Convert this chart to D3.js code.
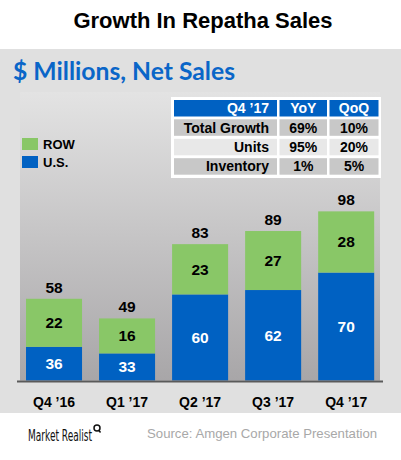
<!DOCTYPE html>
<html>
<head>
<meta charset="utf-8">
<script src="https://cdn.jsdelivr.net/npm/d3@7"></script>
<style>
  html, body { margin: 0; padding: 0; background: #fff; }
  svg { display: block; }
</style>
</head>
<body>
<svg id="chart" width="401" height="460"></svg>
<script>
// ---- Data ----
const quarters = ["Q4 \u201916", "Q1 \u201917", "Q2 \u201917", "Q3 \u201917", "Q4 \u201917"];
const usValues = [36, 33, 60, 62, 70];
const rowValues = [22, 16, 23, 27, 28];
const totalValues = [58, 49, 83, 89, 98];
const seriesNames = ["ROW", "U.S."];
const tableHeader = ["Q4 \u201917", "YoY", "QoQ"];
const tableRowLabels = ["Total Growth", "Units", "Inventory"];
const tableYoY = ["69%", "95%", "1%"];
const tableQoQ = ["10%", "20%", "5%"];

// ---- Styles ----
const GREEN = "#89c767";
const BLUE = "#0061c2";
const PANEL = "#e0e0e0";

const svg = d3.select("#chart");
const defs = svg.append("defs");
const grad = defs.append("linearGradient").attr("id", "plotGrad")
  .attr("x1", 0).attr("y1", 0).attr("x2", 0).attr("y2", 1);
grad.append("stop").attr("offset", "0%").attr("stop-color", "#e3e3e3");
grad.append("stop").attr("offset", "100%").attr("stop-color", "#a8a6a8");

// Title
svg.append("text").attr("x", 203).attr("y", 28).attr("text-anchor", "middle")
  .attr("font-family", "Liberation Sans, Arial, sans-serif").attr("font-weight", "bold")
  .attr("font-size", 22).attr("fill", "#000").text("Growth In Repatha Sales");

// Gray panel
svg.append("rect").attr("x", 0).attr("y", 49).attr("width", 401).attr("height", 364).attr("fill", PANEL);

// Subtitle
svg.append("text").attr("x", 13).attr("y", 80)
  .attr("font-family", "Lato, 'Open Sans', sans-serif").attr("font-weight", "bold")
  .attr("font-size", 24.7).attr("fill", "#0a66c8").text("$ Millions, Net Sales");

// Plot area
const plotLeft = 20, plotRight = 380, plotTop = 92, baseY = 380.5;
svg.append("rect").attr("x", plotLeft).attr("y", plotTop).attr("width", plotRight - plotLeft)
  .attr("height", baseY - plotTop).attr("fill", "url(#plotGrad)");

// Scales
const x = d3.scaleBand().domain(quarters).range([20.9, 379.3]).paddingInner(0.233).paddingOuter(0.07);
const y = d3.scaleLinear().domain([20.6, 100]).range([baseY, 207]);

const data = quarters.map((q, i) => ({ q, us: usValues[i], row: rowValues[i], total: totalValues[i] }));

const g = svg.append("g");
// U.S. bars
g.selectAll("rect.us").data(data).join("rect").attr("class", "us")
  .attr("x", d => x(d.q)).attr("width", x.bandwidth())
  .attr("y", d => y(d.us)).attr("height", d => baseY - y(d.us))
  .attr("fill", BLUE);
// ROW bars
g.selectAll("rect.row").data(data).join("rect").attr("class", "row")
  .attr("x", d => x(d.q)).attr("width", x.bandwidth())
  .attr("y", d => y(d.us + d.row)).attr("height", d => y(d.us) - y(d.us + d.row))
  .attr("fill", GREEN);

const labelFont = "Liberation Sans, Arial, sans-serif";
// U.S. labels
g.selectAll("text.us").data(data).join("text").attr("class", "us")
  .attr("x", d => x(d.q) + x.bandwidth() / 2)
  .attr("y", d => (y(d.us) + baseY) / 2 + 5.5)
  .attr("text-anchor", "middle").attr("font-family", labelFont).attr("font-weight", "bold")
  .attr("font-size", 15.5).attr("fill", "#fff").text(d => d.us);
// ROW labels
g.selectAll("text.row").data(data).join("text").attr("class", "row")
  .attr("x", d => x(d.q) + x.bandwidth() / 2)
  .attr("y", d => (y(d.us) + y(d.us + d.row)) / 2 + 5.5)
  .attr("text-anchor", "middle").attr("font-family", labelFont).attr("font-weight", "bold")
  .attr("font-size", 15.5).attr("fill", "#000").text(d => d.row);
// Totals
g.selectAll("text.total").data(data).join("text").attr("class", "total")
  .attr("x", d => x(d.q) + x.bandwidth() / 2)
  .attr("y", d => y(d.total) - 6)
  .attr("text-anchor", "middle").attr("font-family", labelFont).attr("font-weight", "bold")
  .attr("font-size", 15.5).attr("fill", "#000").text(d => d.total);

// X axis
const xAxis = svg.append("g").attr("transform", `translate(0,${baseY + 1})`)
  .call(d3.axisBottom(x).tickSize(0).tickPadding(16));
xAxis.select(".domain").remove();
xAxis.append("line").attr("x1", 17).attr("x2", 383).attr("y1", 0).attr("y2", 0)
  .attr("stroke", "#5a5a5a").attr("stroke-width", 2);
xAxis.selectAll(".tick text").attr("font-family", labelFont).attr("font-weight", "bold")
  .attr("font-size", 14).attr("fill", "#000");

// Legend
const legendColors = [GREEN, BLUE];
const legend = svg.append("g");
seriesNames.forEach((name, i) => {
  legend.append("rect").attr("x", 22).attr("y", 138 + i * 18).attr("width", 16).attr("height", 12)
    .attr("fill", legendColors[i]);
  legend.append("text").attr("x", 43).attr("y", 149 + i * 18)
    .attr("font-family", labelFont).attr("font-weight", "bold").attr("font-size", 13)
    .attr("fill", "#000").text(name);
});

// Table
const tbl = svg.append("g");
tbl.append("rect").attr("x", 171).attr("y", 97).attr("width", 210).attr("height", 81).attr("fill", "#fff");
const colX = [174, 279.5, 329.5];
const colW = [103, 47.5, 49];
const rowY = [100, 119.3, 138.8, 158.2];
const rowH = 16.5;
const rows = [tableHeader].concat(tableRowLabels.map((l, i) => [l, tableYoY[i], tableQoQ[i]]));
const rowFill = ["#0061c2", "#c8c8c8", "#e8e8e8", "#c8c8c8"];
rows.forEach((r, ri) => {
  r.forEach((cell, ci) => {
    tbl.append("rect").attr("x", colX[ci]).attr("y", rowY[ri]).attr("width", colW[ci]).attr("height", rowH)
      .attr("fill", rowFill[ri]);
    tbl.append("text")
      .attr("x", ci === 0 ? colX[ci] + colW[ci] - 8 : colX[ci] + colW[ci] / 2)
      .attr("y", rowY[ri] + rowH / 2 + 5)
      .attr("text-anchor", ci === 0 ? "end" : "middle")
      .attr("font-family", labelFont).attr("font-weight", "bold").attr("font-size", 14)
      .attr("fill", ri === 0 ? "#fff" : "#000").text(cell);
  });
});

// Footer
const logo = svg.append("g");
logo.append("text").attr("x", 28).attr("y", 441)
  .attr("font-family", "'Liberation Sans Narrow', 'DejaVu Sans Condensed', sans-serif")
  .attr("font-size", 15).attr("fill", "#111").attr("textLength", 64).attr("lengthAdjust", "spacingAndGlyphs")
  .text("Market Realist");
logo.append("circle").attr("cx", 97).attr("cy", 428).attr("r", 3).attr("fill", "none").attr("stroke", "#111").attr("stroke-width", 1.5);
logo.append("line").attr("x1", 98.5).attr("y1", 430).attr("x2", 100.5).attr("y2", 432.5).attr("stroke", "#111").attr("stroke-width", 1.5);

svg.append("text").attr("x", 147).attr("y", 438)
  .attr("font-family", "Liberation Sans, Arial, sans-serif").attr("font-size", 13.2)
  .attr("fill", "#a8a8a8").text("Source: Amgen Corporate Presentation");
</script>
</body>
</html>
